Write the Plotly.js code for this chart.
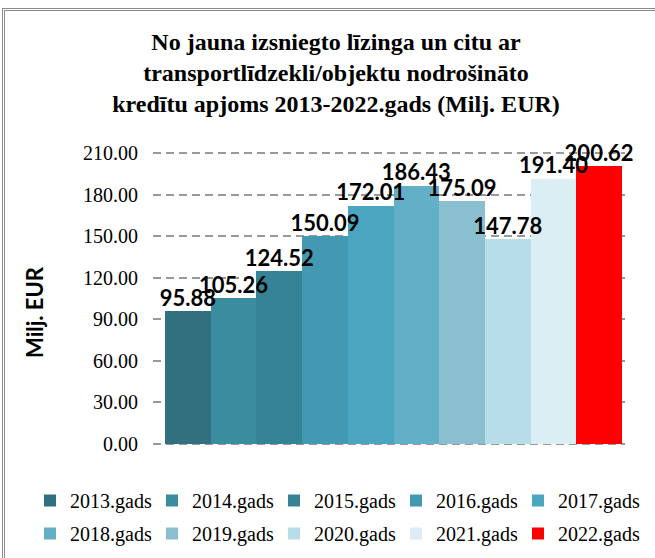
<!DOCTYPE html>
<html><head><meta charset="utf-8">
<script src="https://cdn.plot.ly/plotly-3.0.1.min.js"></script>
<style>
html,body{margin:0;padding:0;background:#fff;overflow:hidden;}
#frame{position:absolute;left:2px;top:8px;width:700px;height:600px;border-left:3px double #8c8c8c;border-top:3px double #8c8c8c;}
#chart{position:absolute;left:0;top:0;width:655px;height:558px;}
</style></head><body><div id="frame"></div><div id="chart"></div>
<script>
const years = ['2013.gads','2014.gads','2015.gads','2016.gads','2017.gads','2018.gads','2019.gads','2020.gads','2021.gads','2022.gads'];
const values = [95.88,105.26,124.52,150.09,172.01,186.43,175.09,147.78,191.40,200.62];
const colors = ['#31717F','#3A8C9F','#378396','#4399B2','#4AA5C0','#63AFC8','#8ABFD0','#B7DDE8','#DBEEF4','#FF0000'];
const yTicks = [0,30,60,90,120,150,180,210];
const yTitle = 'Milj. EUR';

const traces = years.map((yr,i)=>({
  type:'bar', name:yr, x:[yr], y:[values[i]],
  marker:{color:colors[i], line:{width:0}},
  legend: i < 5 ? 'legend' : 'legend2',
  hoverinfo:'skip'
}));
traces.push({
  type:'scatter', mode:'text', x:years, y:values, showlegend:false,
  text:values.map(v=>v.toFixed(2)), textposition:'top center',
  textfont:{family:'Lato, sans-serif', size:22, color:'#000', weight:'bold'},
  cliponaxis:false, hoverinfo:'skip'
});

const legendBase = {orientation:'h', xref:'container', yref:'container', xanchor:'left', yanchor:'top',
  font:{family:'Liberation Serif, serif', size:20, color:'#000'}, entrywidth:77, itemwidth:30,
  traceorder:'normal', bgcolor:'rgba(0,0,0,0)', borderwidth:0};

const layout = {
  width:655, height:558,
  paper_bgcolor:'rgba(0,0,0,0)', plot_bgcolor:'rgba(0,0,0,0)',
  margin:{l:10, r:5, t:152, b:113},
  barmode:'overlay', bargap:0,
  title:{text:'No jauna izsniegto līzinga un citu ar<br>transportlīdzekli/objektu nodrošināto<br>kredītu apjoms 2013-2022.gads (Milj. EUR)',
    font:{family:'Liberation Serif, serif', size:24, color:'#000', weight:'bold'},
    x:0.513, xanchor:'center', xref:'container', y:0.911, yanchor:'top', yref:'container'},
  xaxis:{domain:[(153-10)/640,(625-10)/640], range:[-0.763,9.566], showticklabels:false, showgrid:false, zeroline:false, showline:false, ticks:''},
  yaxis:{range:[-0.75,210.75], tickvals:yTicks, ticktext:yTicks.map(v=>v.toFixed(2)),
    showgrid:true, gridcolor:'#999999', gridwidth:2, griddash:'8px,5px', zeroline:false, showline:false,
    ticklabelstandoff:14,
    tickfont:{family:'Liberation Serif, serif', size:20, color:'#000'}},
  annotations:[{text:yTitle, xref:'paper', yref:'paper', x:(34-10)/640, y:(445-312)/293, xanchor:'center', yanchor:'middle',
    textangle:-90, showarrow:false, font:{family:'Lato, sans-serif', size:22, color:'#000', weight:'bold'}}],
  showlegend:true,
  legend:Object.assign({}, legendBase, {x:30/655, y:1-481/558}),
  legend2:Object.assign({}, legendBase, {x:30/655, y:1-514/558})
};
Plotly.newPlot('chart', traces, layout, {staticPlot:true, displayModeBar:false});
</script></body></html>
